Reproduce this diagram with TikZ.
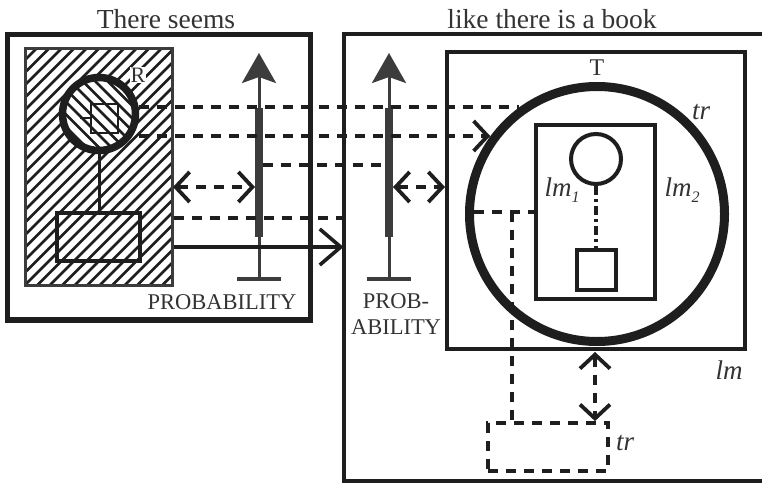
\documentclass[tikz,border=0pt]{standalone}
\usepackage{fontspec}
\setmainfont{Liberation Serif}
\usetikzlibrary{arrows.meta}
\definecolor{ink}{HTML}{1E1E1E}
\definecolor{shaft}{HTML}{3C3C3C}
\definecolor{txt}{HTML}{333333}
\tikzset{
  boxline/.style={draw=ink, line width=#1, inner sep=0pt, fill=none},
  hatchline/.style={draw=ink, line width=2.8pt},
  dline/.style={draw=ink, line width=3.8pt, dash pattern=on 10pt off 8pt},
  barb/.style={-{Straight Barb[length=14pt, width=30pt]}},
  dbarb/.style={{Straight Barb[length=14pt, width=30pt]}-{Straight Barb[length=14pt, width=30pt]}},
  probarrow/.style={draw=shaft, line width=3pt, -{Stealth[length=30pt, width=34pt, inset=6pt]}},
  lbl/.style={text=txt, inner sep=0pt},
  big/.style={lbl, font=\fontsize{27.5}{30}\selectfont},
  mid/.style={lbl, font=\fontsize{22.5}{26}\selectfont},
  ital/.style={lbl, font=\fontsize{27}{29}\selectfont\itshape},
}
\begin{document}
\begin{tikzpicture}[x=1pt, y=-1pt]
\useasboundingbox (0,0) rectangle (762,484);
\fill[white] (0,0) rectangle (762,484);
\clip (0,0) rectangle (762,484);

% ---------- left panel ----------
\node[boxline=5.5pt, minimum width=303pt, minimum height=285.5pt] (lframe) at (159,177.25) {};
\node[big] (ttl1) at (166,19) {There seems};

% hatched region
\node[fill=white, inner sep=0pt, minimum width=147pt, minimum height=236pt] (hatch) at (98.5,167) {};
\begin{scope}
  \clip (25,49) rectangle (172,285);
  \foreach \k in {-20,...,13}
    \draw[hatchline] (25+\k*12.5,285) -- ++(240,-240);
\end{scope}
\node[boxline=3pt, draw=shaft, minimum width=147pt, minimum height=236pt] (hatchb) at (98.5,167) {};

% hatched circle with the small square inside
\node[circle, fill=white, inner sep=0pt, minimum size=73pt] (rc) at (99,114) {};
\begin{scope}
  \clip (99,114) circle[radius=37pt];
  \foreach \k in {-13,...,6}
    \draw[hatchline] (99+\k*12.5,60) -- ++(110,110);
\end{scope}
\draw[ink, line width=1.6pt] (91,104) rectangle (118,133);
\draw[ink, line width=1.6pt] (80,118) -- (91,118);
\node[circle, boxline=7.5pt, minimum size=73pt] (R) at (99,114) {};
\node[lbl, font=\fontsize{22}{24}\selectfont, fill=white, inner sep=1pt] (rlab) at (138,75) {R};

% stem and small rectangle
\node[boxline=4pt, minimum width=83pt, minimum height=48pt] (srect) at (98.5,237) {};
\draw[ink, line width=3pt] (R.south) -- (srect.north -| R.south);

% left probability arrow
\coordinate (pa1) at (259,279);
\coordinate (pa1tip) at (259,53);
\draw[probarrow] (pa1) -- (pa1tip);
\draw[shaft, line width=8pt] (259,108) -- (259,237);
\draw[shaft, line width=4pt] (237,279) -- (281,279);
\node[mid] (prob1) at (222,302) {PROBABILITY};

% ---------- right panel ----------
\draw[ink, line width=4pt] (770,34.5) -- (343.5,34.5) -- (343.5,480.5) -- (770,480.5);
\node[big] (ttl2) at (552,19) {like there is a book};

% right probability arrow
\coordinate (pa2) at (389,279);
\coordinate (pa2tip) at (389,53);
\draw[probarrow] (pa2) -- (pa2tip);
\draw[shaft, line width=8pt] (389,108) -- (389,237);
\draw[shaft, line width=4pt] (367,279) -- (411,279);
\node[mid] (prob2a) at (396,301) {PROB-};
\node[mid] (prob2b) at (396,327) {ABILITY};

% T box, circle tr, inner box lm
\node[boxline=4pt, minimum width=298pt, minimum height=297pt] (tbox) at (596,200.5) {};
\node[lbl, font=\fontsize{24}{26}\selectfont] (tlab) at (597,68) {T};
\node[circle, boxline=9pt, minimum size=255pt] (tc) at (597,214) {};
\node[ital] (trlab) at (701,112) {tr};
\node[boxline=4pt, minimum width=119pt, minimum height=174pt] (lmbox) at (595.5,212) {};
\node[circle, boxline=4pt, minimum size=50pt] (sc) at (596,159) {};
\node[boxline=4.5pt, minimum width=39pt, minimum height=40pt] (sq) at (596.5,270) {};
\draw[ink, line width=3.8pt, dash pattern=on 9pt off 4pt on 3pt off 4pt] (sc.south) -- (sq.north -| sc.south);
\node[ital] (lm1) at (562,190) {lm\raisebox{-6pt}{\fontsize{16}{16}\selectfont 1}};
\node[ital] (lm2) at (682,190) {lm\raisebox{-6pt}{\fontsize{16}{16}\selectfont 2}};
\node[ital] (lmlab) at (729,370) {lm};

% dashed tr box below
\node[draw=ink, line width=3.8pt, dash pattern=on 10pt off 8pt, inner sep=0pt, minimum width=120pt, minimum height=48pt] (dbox) at (548,447) {};
\node[ital] (trlab2) at (625,443) {tr};

% ---------- dashed links ----------
\draw[dline] (R.10) -- (R.10 -| tc.126);
\coordinate (s2) at (139,136);
\draw[dline, barb] (s2) -- (s2 -| tc.144);
\coordinate (s3) at (263,165);
\coordinate (s3e) at (385,165);
\draw[dline] (s3) -- (s3e);
\draw[dline] (hatchb.east |- 0,218) -- (343.5,218);
\coordinate (da1) at (173,187);
\coordinate (da1e) at (255,187);
\draw[dline, dbarb] (da1) -- (da1e);
\coordinate (da2) at (393,187);
\draw[dline, dbarb] (da2) -- (da2 -| tbox.west);
\draw[ink, line width=3.6pt, -{Straight Barb[length=21pt, width=36pt]}] (hatchb.east |- 0,247) -- (343.5,247);

% links inside the T box
\coordinate (l1) at (474,212);
\draw[dline] (l1) -- (l1 -| lmbox.west);
\coordinate (l2) at (512,212);
\draw[dline] (l2) -- (l2 |- dbox.north);
\coordinate (v1) at (595,352);
\draw[dline, dbarb] (v1) -- (v1 |- dbox.north);
\end{tikzpicture}
\end{document}
